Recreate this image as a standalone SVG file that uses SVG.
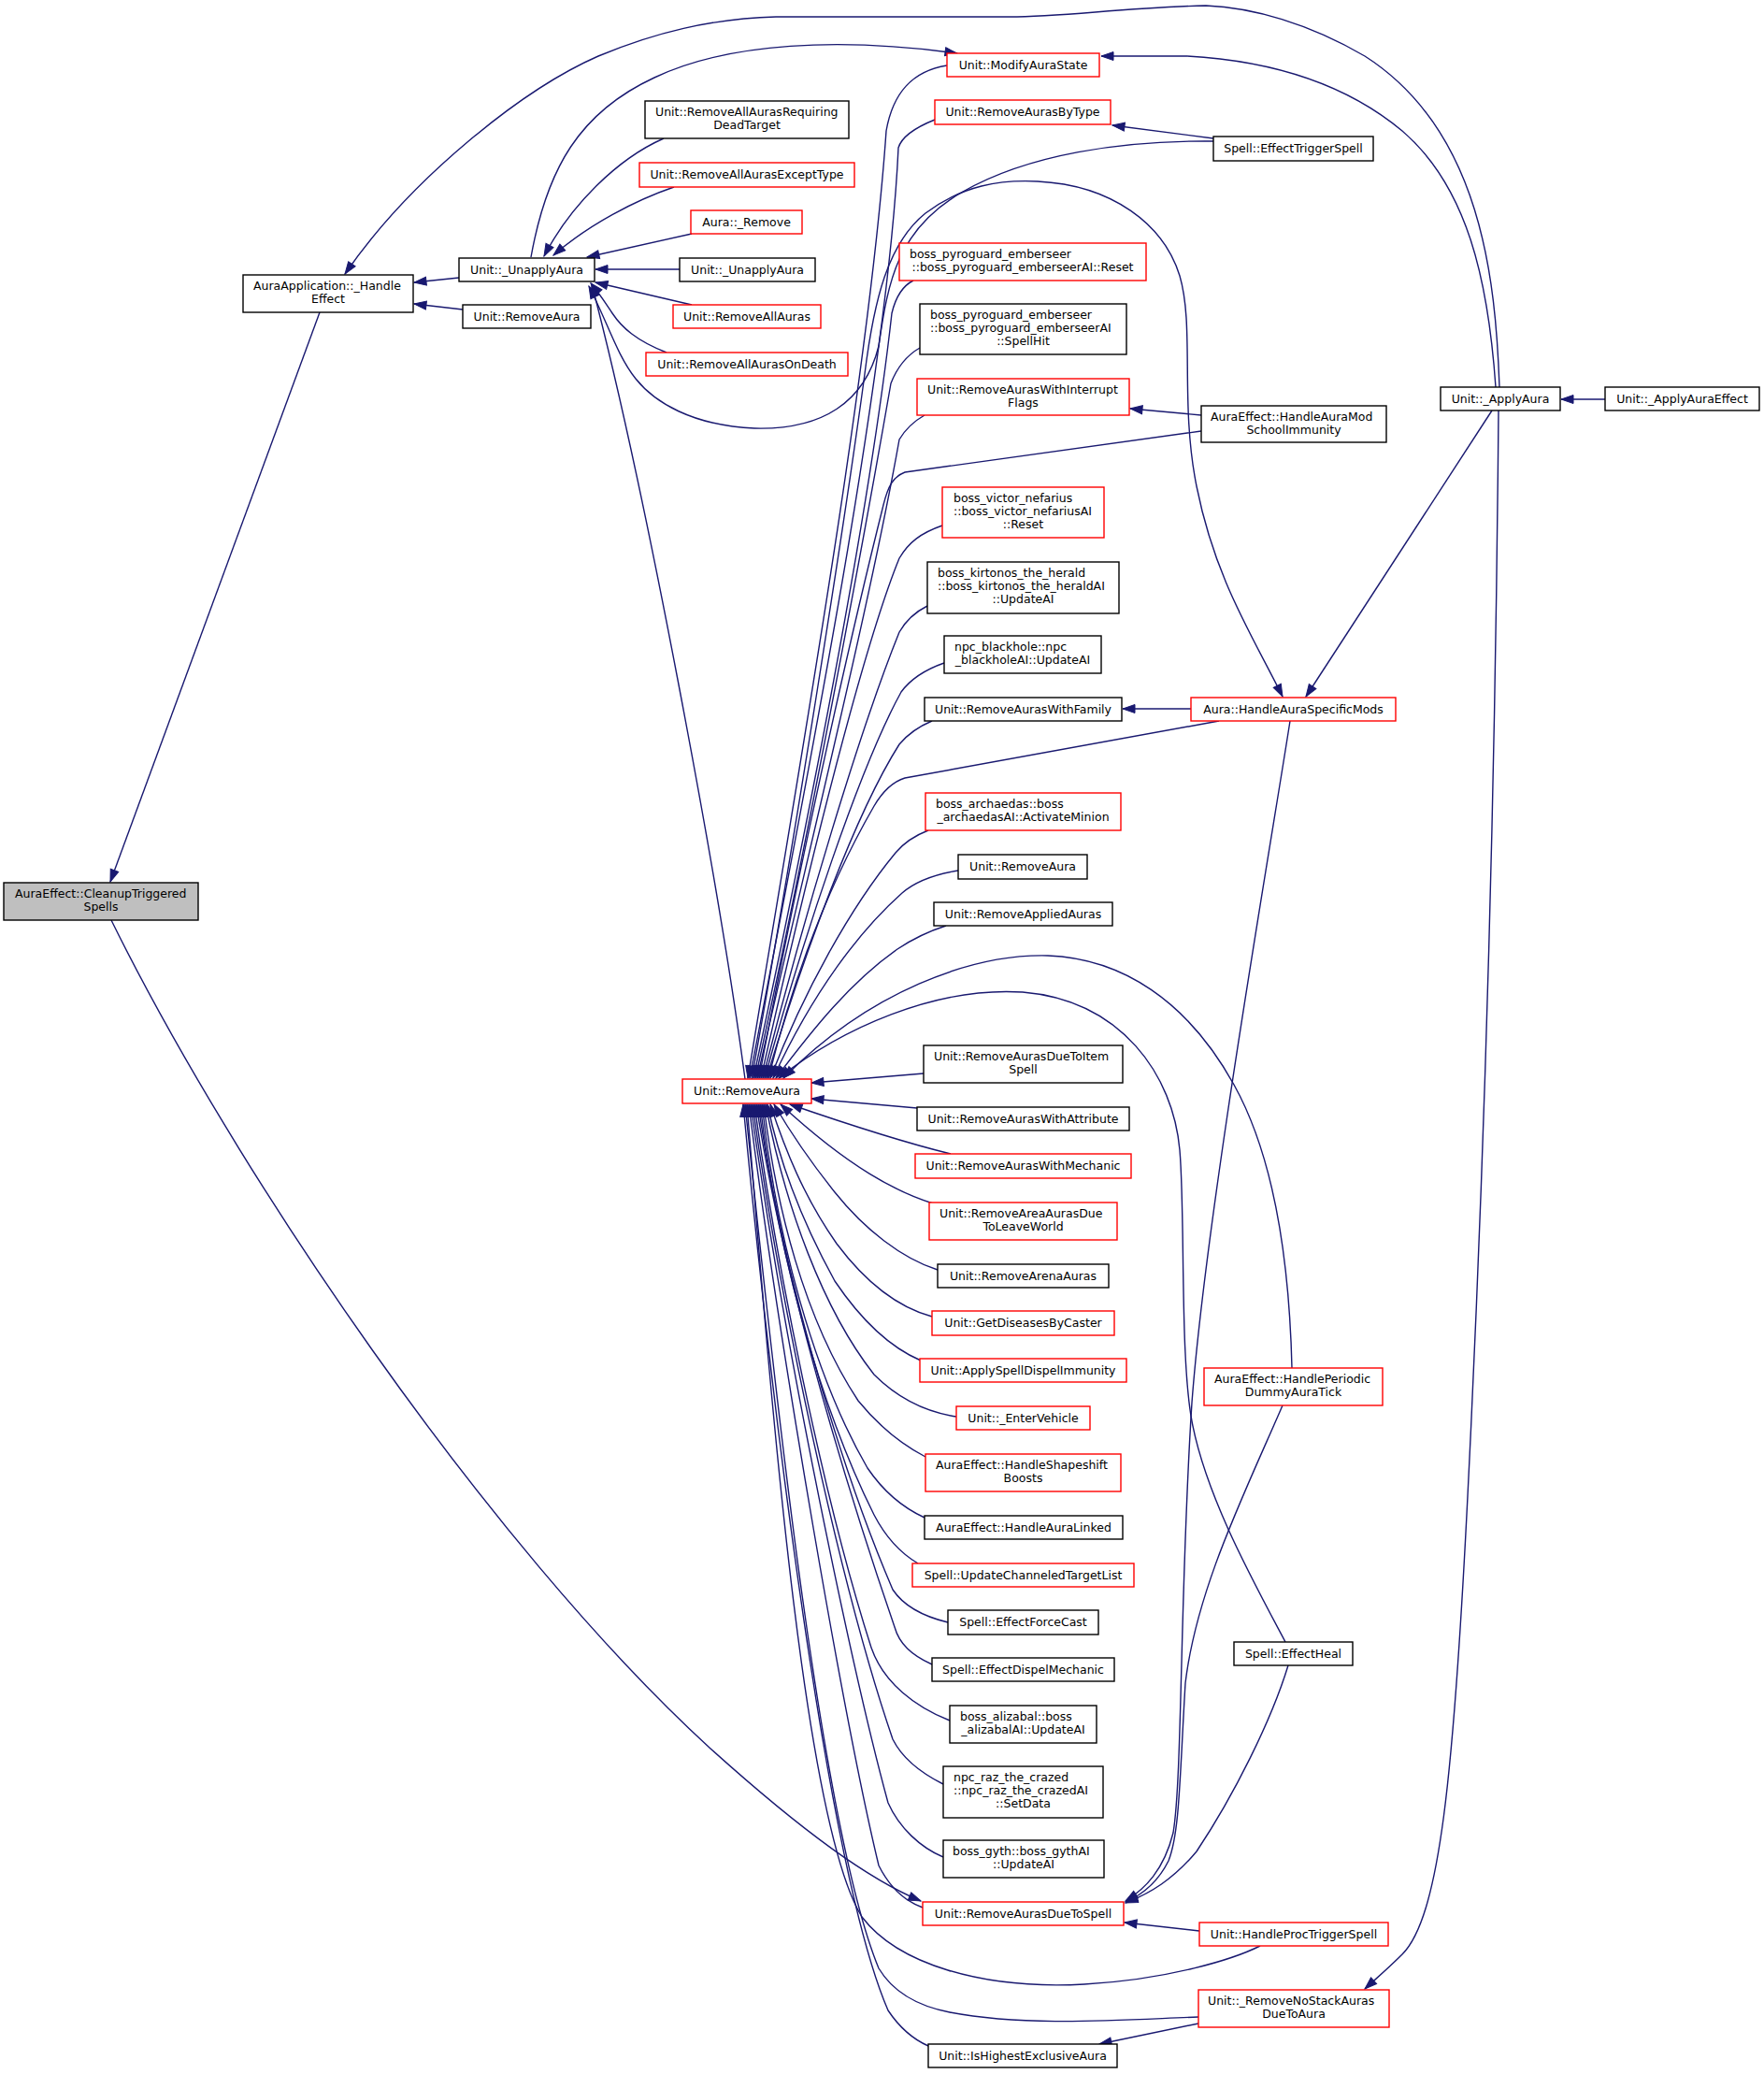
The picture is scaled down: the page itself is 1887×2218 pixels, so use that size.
<svg xmlns="http://www.w3.org/2000/svg" width="1887" height="2218" viewBox="0 0 1887 2218">
<style>
.n rect{fill:#fff;stroke:#000;stroke-width:1.4}
.r rect{stroke:#ff0000}
.f rect{fill:#bfbfbf}
text{font-family:"DejaVu Sans","Liberation Sans",sans-serif;font-size:12.5px;fill:#000}
.c{text-anchor:middle}
.l{text-anchor:start}
#edges path{fill:none;stroke:#191970;stroke-width:1.4;marker-end:url(#ah)}
</style>
<defs>
<marker id="ah" markerUnits="userSpaceOnUse" markerWidth="14" markerHeight="10" refX="13" refY="4.5" orient="auto" overflow="visible"><path d="M0,0 L13,4.5 L0,9 z" fill="#191970" stroke="#191970" stroke-width="1"/></marker>
</defs>
<rect width="1887" height="2218" fill="#fff"/>
<g id="edges">
<path d="M342,334 L118,943"/>
<path d="M491,297 L443,302"/>
<path d="M495,331 L443,325"/>
<path d="M1604,414 C1600,300 1585,140 1460,60 C1400,25 1340,8 1290,6 C1200,8 1140,18 1080,18 L830,18 C760,20 700,35 640,60 C560,95 440,190 369,293"/>
<path d="M1600,414 C1592,300 1570,200 1500,140 C1440,90 1360,65 1270,60 L1178,60"/>
<path d="M568,275 C585,180 620,120 700,83 C780,45 900,40 1024,57"/>
<path d="M710,148 C660,170 610,220 582,274"/>
<path d="M721,200 C680,214 630,240 592,273"/>
<path d="M740,250 L628,275"/>
<path d="M727,288 L637,288"/>
<path d="M740,326 L637,302"/>
<path d="M713,377 C680,364 665,350 655,335 C645,320 640,312 632,303"/>
<path d="M1298,151 C1200,150 1100,165 1030,205 C960,245 950,300 940,370 C925,430 880,460 807,458 C740,455 700,430 680,405 C660,380 650,345 630,306"/>
<path d="M797,1154 C770,950 690,520 633,304"/>
<path d="M1013,70 C975,76 955,100 948,140 C930,400 850,850 800,1153"/>
<path d="M1000,128 C980,136 965,145 961,158 C950,400 860,850 802,1153"/>
<path d="M804,1154 C850,900 905,550 925,400 C935,320 950,260 990,228 C1030,198 1070,192 1110,194 C1190,198 1245,240 1262,295 C1278,350 1262,430 1280,520 C1300,620 1340,680 1372,745"/>
<path d="M977,300 C965,306 958,318 954,335 C930,550 860,900 806,1153"/>
<path d="M984,372 C970,380 960,392 953,410 C920,600 860,920 808,1153"/>
<path d="M989,444 C975,452 968,460 962,470 C930,650 860,930 810,1153"/>
<path d="M1285,461 L968,505 C955,510 950,520 945,540 C905,700 850,950 812,1153"/>
<path d="M1008,562 C985,570 972,580 962,597 C920,700 860,950 814,1153"/>
<path d="M992,648 C980,654 970,662 962,676 C920,780 860,980 816,1153"/>
<path d="M1010,709 C990,716 975,725 964,740 C920,820 860,1000 818,1153"/>
<path d="M997,771 C985,776 972,784 962,796 C915,870 860,1020 820,1153"/>
<path d="M1304,771 L968,832 C955,836 945,845 935,862 C890,940 850,1040 822,1153"/>
<path d="M993,888 C980,893 968,900 958,912 C910,970 860,1060 824,1153"/>
<path d="M1025,931 C1000,935 980,942 965,955 C920,995 870,1060 827,1153"/>
<path d="M1012,990 C990,997 975,1005 960,1015 C910,1050 870,1100 830,1153"/>
<path d="M1375,1756 C1340,1690 1290,1600 1275,1520 C1262,1450 1268,1300 1262,1230 C1255,1150 1200,1070 1094,1061 C1000,1055 900,1100 833,1153"/>
<path d="M1382,1463 C1380,1380 1370,1250 1320,1160 C1270,1070 1200,1025 1121,1022 C1040,1020 930,1060 838,1153"/>
<path d="M988,1148 L868,1158"/>
<path d="M981,1185 L868,1175"/>
<path d="M1017,1234 C960,1220 900,1200 845,1181"/>
<path d="M998,1287 C960,1275 910,1250 835,1181"/>
<path d="M1003,1358 C965,1346 925,1315 893,1275 C865,1240 845,1210 828,1181"/>
<path d="M997,1408 C960,1398 925,1370 895,1330 C860,1280 840,1230 824,1181"/>
<path d="M985,1455 C950,1440 920,1410 893,1370 C860,1310 835,1250 821,1181"/>
<path d="M1023,1515 C990,1510 960,1495 935,1470 C880,1400 840,1290 819,1181"/>
<path d="M990,1558 C965,1545 940,1525 918,1498 C860,1410 830,1290 817,1181"/>
<path d="M989,1623 C965,1612 945,1595 928,1570 C870,1470 830,1320 815,1181"/>
<path d="M982,1672 C965,1662 948,1645 935,1620 C875,1500 830,1330 813,1181"/>
<path d="M1014,1735 C985,1728 965,1715 955,1700 C895,1560 835,1350 811,1181"/>
<path d="M997,1780 C975,1770 962,1758 957,1740 C895,1560 835,1350 809,1181"/>
<path d="M1016,1840 C980,1826 945,1800 932,1762 C880,1600 830,1350 807,1181"/>
<path d="M1009,1908 C985,1896 965,1880 955,1860 C900,1700 835,1400 805,1181"/>
<path d="M1009,1986 C985,1976 962,1955 950,1928 C915,1800 840,1450 803,1181"/>
<path d="M987,2040 C965,2032 950,2015 940,1995 C905,1850 835,1450 801,1181"/>
<path d="M1348,2081 C1320,2095 1250,2117 1160,2122 C1050,2128 960,2100 922,2050 C860,1950 825,1500 799,1181"/>
<path d="M1282,2157 C1200,2160 1100,2168 1016,2152 C980,2145 955,2130 940,2105 C880,1960 830,1500 797,1181"/>
<path d="M993,2188 C975,2180 960,2165 950,2150 C885,2000 825,1500 795,1181"/>
<path d="M119,984 C250,1250 520,1650 760,1870 C860,1960 930,2010 985,2033"/>
<path d="M1380,771 C1360,900 1290,1300 1275,1500 C1262,1700 1265,1900 1255,1960 C1245,2000 1225,2020 1204,2033"/>
<path d="M1372,1503 C1330,1600 1280,1700 1268,1800 C1262,1900 1262,1960 1250,1990 C1240,2010 1225,2025 1204,2034"/>
<path d="M1378,1781 C1360,1840 1320,1920 1280,1980 C1255,2010 1230,2025 1204,2035"/>
<path d="M1283,2065 L1203,2056"/>
<path d="M1285,444 L1209,437"/>
<path d="M1274,758 L1201,758"/>
<path d="M1298,148 L1190,134"/>
<path d="M1717,427 L1670,427"/>
<path d="M1596,439 L1397,745"/>
<path d="M1603,439 C1600,800 1590,1200 1570,1600 C1555,1900 1540,2050 1500,2090 C1485,2105 1472,2116 1460,2127"/>
<path d="M1282,2164 L1176,2186"/>
</g>
<g id="n_cleanup" class="n f"><rect x="4" y="944" width="208" height="40"/><text class="l" x="16" y="960">AuraEffect::CleanupTriggered</text><text class="c" x="108" y="974">Spells</text></g>
<g id="n_handleeffect" class="n"><rect x="260" y="294" width="182" height="40"/><text class="l" x="271" y="310">AuraApplication::_Handle</text><text class="c" x="351" y="324">Effect</text></g>
<g id="n_unapply1" class="n"><rect x="491" y="276" width="145" height="25"/><text class="c" x="563.5" y="293">Unit::_UnapplyAura</text></g>
<g id="n_removeaura1" class="n"><rect x="495" y="326" width="137" height="25"/><text class="c" x="563.5" y="343">Unit::RemoveAura</text></g>
<g id="n_modify" class="n r"><rect x="1013" y="57" width="163" height="25"/><text class="c" x="1094.5" y="74">Unit::ModifyAuraState</text></g>
<g id="n_reqdead" class="n"><rect x="690" y="108" width="218" height="40"/><text class="l" x="701" y="124">Unit::RemoveAllAurasRequiring</text><text class="c" x="799" y="138">DeadTarget</text></g>
<g id="n_bytype" class="n r"><rect x="1000" y="107" width="188" height="26"/><text class="c" x="1094" y="124">Unit::RemoveAurasByType</text></g>
<g id="n_excepttype" class="n r"><rect x="684" y="174" width="230" height="26"/><text class="c" x="799" y="191">Unit::RemoveAllAurasExceptType</text></g>
<g id="n_auraremove" class="n r"><rect x="739" y="225" width="119" height="25"/><text class="c" x="798.5" y="242">Aura::_Remove</text></g>
<g id="n_unapply2" class="n"><rect x="727" y="276" width="145" height="25"/><text class="c" x="799.5" y="293">Unit::_UnapplyAura</text></g>
<g id="n_removeall" class="n r"><rect x="720" y="326" width="158" height="25"/><text class="c" x="799" y="343">Unit::RemoveAllAuras</text></g>
<g id="n_ondeath" class="n r"><rect x="691" y="377" width="216" height="25"/><text class="c" x="799" y="394">Unit::RemoveAllAurasOnDeath</text></g>
<g id="n_pyro_reset" class="n r"><rect x="962" y="260" width="264" height="40"/><text class="l" x="973" y="276">boss_pyroguard_emberseer</text><text class="c" x="1094" y="290">::boss_pyroguard_emberseerAI::Reset</text></g>
<g id="n_pyro_spellhit" class="n"><rect x="984" y="325" width="221" height="54"/><text class="l" x="995" y="341">boss_pyroguard_emberseer</text><text class="l" x="995" y="355">::boss_pyroguard_emberseerAI</text><text class="c" x="1094.5" y="369">::SpellHit</text></g>
<g id="n_interrupt" class="n r"><rect x="981" y="405" width="227" height="39"/><text class="l" x="992" y="421">Unit::RemoveAurasWithInterrupt</text><text class="c" x="1094.5" y="435">Flags</text></g>
<g id="n_triggerspell" class="n"><rect x="1298" y="146" width="171" height="26"/><text class="c" x="1383.5" y="163">Spell::EffectTriggerSpell</text></g>
<g id="n_applyaura" class="n"><rect x="1541" y="414" width="128" height="25"/><text class="c" x="1605" y="431">Unit::_ApplyAura</text></g>
<g id="n_applyauraeffect" class="n"><rect x="1717" y="414" width="165" height="25"/><text class="c" x="1799.5" y="431">Unit::_ApplyAuraEffect</text></g>
<g id="n_schoolimm" class="n"><rect x="1285" y="434" width="198" height="39"/><text class="l" x="1295" y="450">AuraEffect::HandleAuraMod</text><text class="c" x="1384" y="464">SchoolImmunity</text></g>
<g id="n_victor" class="n r"><rect x="1008" y="521" width="173" height="54"/><text class="l" x="1020" y="537">boss_victor_nefarius</text><text class="l" x="1020" y="551">::boss_victor_nefariusAI</text><text class="c" x="1094.5" y="565">::Reset</text></g>
<g id="n_kirtonos" class="n"><rect x="992" y="601" width="205" height="55"/><text class="l" x="1003" y="617">boss_kirtonos_the_herald</text><text class="l" x="1003" y="631">::boss_kirtonos_the_heraldAI</text><text class="c" x="1094.5" y="645">::UpdateAI</text></g>
<g id="n_blackhole" class="n"><rect x="1010" y="680" width="168" height="40"/><text class="l" x="1021" y="696">npc_blackhole::npc</text><text class="c" x="1094" y="710">_blackholeAI::UpdateAI</text></g>
<g id="n_family" class="n"><rect x="989" y="746" width="211" height="25"/><text class="c" x="1094.5" y="763">Unit::RemoveAurasWithFamily</text></g>
<g id="n_specificmods" class="n r"><rect x="1274" y="746" width="219" height="25"/><text class="c" x="1383.5" y="763">Aura::HandleAuraSpecificMods</text></g>
<g id="n_archaedas" class="n r"><rect x="990" y="848" width="209" height="40"/><text class="l" x="1001" y="864">boss_archaedas::boss</text><text class="c" x="1094.5" y="878">_archaedasAI::ActivateMinion</text></g>
<g id="n_removeaura2" class="n"><rect x="1025" y="914" width="138" height="26"/><text class="c" x="1094" y="931">Unit::RemoveAura</text></g>
<g id="n_applied" class="n"><rect x="999" y="965" width="191" height="25"/><text class="c" x="1094.5" y="982">Unit::RemoveAppliedAuras</text></g>
<g id="n_removeaura_main" class="n r"><rect x="730" y="1154" width="138" height="26"/><text class="c" x="799" y="1171">Unit::RemoveAura</text></g>
<g id="n_itemspell" class="n"><rect x="988" y="1118" width="213" height="40"/><text class="l" x="999" y="1134">Unit::RemoveAurasDueToItem</text><text class="c" x="1094.5" y="1148">Spell</text></g>
<g id="n_attribute" class="n"><rect x="981" y="1184" width="227" height="25"/><text class="c" x="1094.5" y="1201">Unit::RemoveAurasWithAttribute</text></g>
<g id="n_mechanic" class="n r"><rect x="979" y="1234" width="231" height="26"/><text class="c" x="1094.5" y="1251">Unit::RemoveAurasWithMechanic</text></g>
<g id="n_leaveworld" class="n r"><rect x="994" y="1286" width="201" height="40"/><text class="l" x="1005" y="1302">Unit::RemoveAreaAurasDue</text><text class="c" x="1094.5" y="1316">ToLeaveWorld</text></g>
<g id="n_arena" class="n"><rect x="1003" y="1352" width="183" height="25"/><text class="c" x="1094.5" y="1369">Unit::RemoveArenaAuras</text></g>
<g id="n_diseases" class="n r"><rect x="997" y="1402" width="195" height="26"/><text class="c" x="1094.5" y="1419">Unit::GetDiseasesByCaster</text></g>
<g id="n_dispelimm" class="n r"><rect x="984" y="1453" width="221" height="25"/><text class="c" x="1094.5" y="1470">Unit::ApplySpellDispelImmunity</text></g>
<g id="n_vehicle" class="n r"><rect x="1023" y="1504" width="143" height="25"/><text class="c" x="1094.5" y="1521">Unit::_EnterVehicle</text></g>
<g id="n_shapeshift" class="n r"><rect x="990" y="1555" width="209" height="40"/><text class="l" x="1001" y="1571">AuraEffect::HandleShapeshift</text><text class="c" x="1094.5" y="1585">Boosts</text></g>
<g id="n_linked" class="n"><rect x="989" y="1621" width="212" height="25"/><text class="c" x="1095" y="1638">AuraEffect::HandleAuraLinked</text></g>
<g id="n_channeled" class="n r"><rect x="976" y="1672" width="237" height="25"/><text class="c" x="1094.5" y="1689">Spell::UpdateChanneledTargetList</text></g>
<g id="n_forcecast" class="n"><rect x="1014" y="1722" width="161" height="26"/><text class="c" x="1094.5" y="1739">Spell::EffectForceCast</text></g>
<g id="n_dispelmech" class="n"><rect x="997" y="1773" width="195" height="25"/><text class="c" x="1094.5" y="1790">Spell::EffectDispelMechanic</text></g>
<g id="n_alizabal" class="n"><rect x="1016" y="1824" width="157" height="40"/><text class="l" x="1027" y="1840">boss_alizabal::boss</text><text class="c" x="1094.5" y="1854">_alizabalAI::UpdateAI</text></g>
<g id="n_raz" class="n"><rect x="1009" y="1889" width="171" height="55"/><text class="l" x="1020" y="1905">npc_raz_the_crazed</text><text class="l" x="1020" y="1919">::npc_raz_the_crazedAI</text><text class="c" x="1094.5" y="1933">::SetData</text></g>
<g id="n_gyth" class="n"><rect x="1009" y="1968" width="172" height="40"/><text class="l" x="1019" y="1984">boss_gyth::boss_gythAI</text><text class="c" x="1095" y="1998">::UpdateAI</text></g>
<g id="n_duetospell" class="n r"><rect x="987" y="2034" width="215" height="25"/><text class="c" x="1094.5" y="2051">Unit::RemoveAurasDueToSpell</text></g>
<g id="n_proctrigger" class="n r"><rect x="1283" y="2056" width="202" height="25"/><text class="c" x="1384" y="2073">Unit::HandleProcTriggerSpell</text></g>
<g id="n_nostack" class="n r"><rect x="1282" y="2128" width="204" height="40"/><text class="l" x="1292" y="2144">Unit::_RemoveNoStackAuras</text><text class="c" x="1384" y="2158">DueToAura</text></g>
<g id="n_highest" class="n"><rect x="993" y="2186" width="202" height="25"/><text class="c" x="1094" y="2203">Unit::IsHighestExclusiveAura</text></g>
<g id="n_periodic" class="n r"><rect x="1288" y="1463" width="191" height="40"/><text class="l" x="1299" y="1479">AuraEffect::HandlePeriodic</text><text class="c" x="1383.5" y="1493">DummyAuraTick</text></g>
<g id="n_effectheal" class="n"><rect x="1320" y="1756" width="127" height="25"/><text class="c" x="1383.5" y="1773">Spell::EffectHeal</text></g>
</svg>
